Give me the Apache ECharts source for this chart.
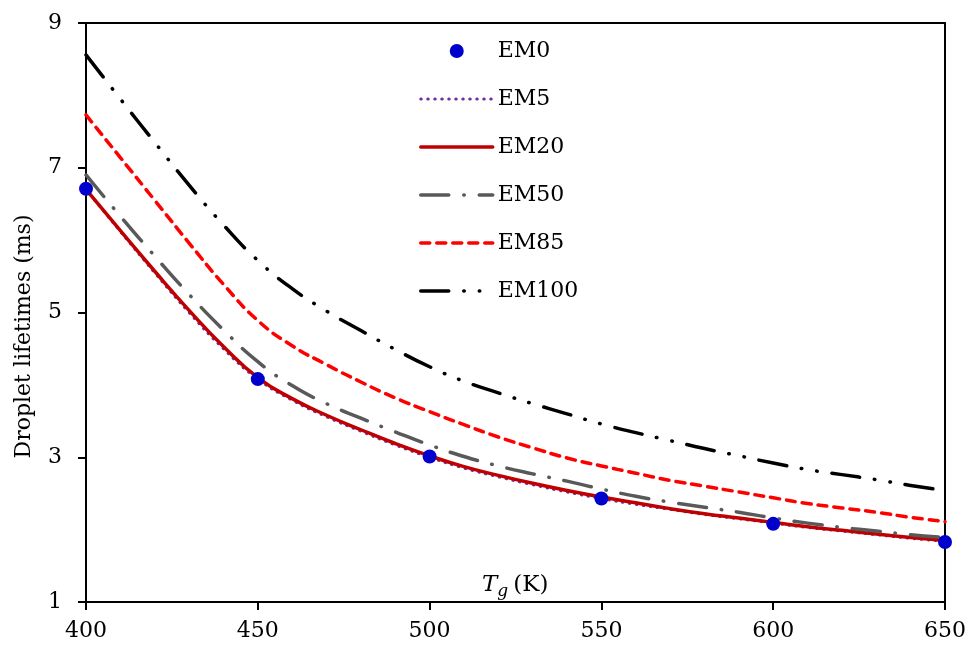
<!DOCTYPE html>
<html>
<head>
<meta charset="utf-8">
<script src="https://cdn.jsdelivr.net/npm/echarts@6/dist/echarts.min.js"></script>
<style>
html,body{margin:0;padding:0;background:#fff;}
#chart{width:969px;height:653px;}
</style>
</head>
<body>
<div id="chart"></div>
<script>
// Gas temperature (K)
var tg = [400,410,420,430,440,450,460,470,480,490,500,510,520,530,540,550,560,570,580,590,600,610,620,630,640,650];
// EM0 measured points
var em0X = [400,450,500,550,600,650];
var em0  = [6.71,4.08,3.01,2.43,2.08,1.83];
// Curves (droplet lifetime, ms)
var em5   = [6.70,6.12,5.55,5.00,4.50,4.08,3.79,3.56,3.36,3.17,3.00,2.85,2.73,2.62,2.52,2.43,2.35,2.28,2.21,2.15,2.09,2.03,1.98,1.93,1.88,1.84];
var em20  = [6.70,6.13,5.57,5.03,4.53,4.10,3.81,3.58,3.38,3.19,3.02,2.87,2.75,2.64,2.54,2.45,2.37,2.29,2.22,2.16,2.10,2.04,1.99,1.94,1.89,1.85];
var em50  = [6.90,6.33,5.78,5.25,4.76,4.32,3.99,3.74,3.54,3.35,3.17,3.01,2.88,2.77,2.67,2.56,2.46,2.38,2.31,2.24,2.16,2.09,2.03,1.98,1.93,1.89];
var em85  = [7.73,7.14,6.55,5.96,5.39,4.89,4.54,4.28,4.04,3.82,3.63,3.45,3.28,3.13,2.99,2.88,2.78,2.68,2.60,2.52,2.44,2.36,2.30,2.24,2.17,2.11];
var em100 = [8.56,7.95,7.35,6.76,6.21,5.72,5.33,5.02,4.75,4.49,4.25,4.05,3.89,3.74,3.60,3.46,3.34,3.23,3.12,3.02,2.92,2.83,2.76,2.69,2.61,2.54];
// Axis ticks
var xTicks = {min:400, max:650, interval:50};
var yTicks = {min:1, max:9, interval:2};
var names = ['EM0','EM5','EM20','EM50','EM85','EM100'];

function pairs(xs, ys){ return xs.map(function(x,i){ return [x, ys[i]]; }); }

var FONT = 'DejaVu Serif';
var chart = echarts.init(document.getElementById('chart'), null, {renderer:'canvas'});
function lineSeries(name, data, color, width, type, z){
  return {
    name: name, type: 'line', data: pairs(tg, data), smooth: 0.5,
    showSymbol: false, symbol: 'none', z: z, animation: false,
    lineStyle: {color: color, width: width, type: type, cap: 'round', join: 'round'},
    itemStyle: {color: color}
  };
}
function legItem(name, w){
  return {name: name, itemStyle: {color: 'transparent', borderColor: 'transparent', borderWidth: 0},
          lineStyle: {width: w}};
}
chart.setOption({
  animation: false,
  backgroundColor: '#fff',
  grid: {left: 86, top: 23, right: 24, bottom: 51, show: true, borderColor: '#000', borderWidth: 2,
         backgroundColor: 'transparent', outerBoundsMode: 'none', containLabel: false},
  title: {
    text: '{i|T}{s|g} {n|(K)}',
    left: 477, top: 566,
    textStyle: {
      fontWeight: 'normal',
      rich: {
        i: {fontFamily: FONT, fontStyle: 'italic', fontWeight: 'normal', fontSize: 23, color: '#000'},
        s: {fontFamily: FONT, fontStyle: 'italic', fontWeight: 'normal', fontSize: 17, color: '#000', verticalAlign: 'bottom', padding: [12,0,0,0]},
        n: {fontFamily: FONT, fontWeight: 'normal', fontSize: 23, color: '#000'}
      }
    }
  },
  legend: {
    orient: 'vertical', left: 414, top: 35, itemWidth: 72, itemHeight: 14, itemGap: 26,
    selectedMode: false,
    textStyle: {fontFamily: FONT, fontSize: 22, color: '#000', lineHeight: 22},
    data: [
      {name: 'EM0'},
      legItem('EM5', 3),
      legItem('EM20', 3.5),
      legItem('EM50', 3.5),
      legItem('EM85', 3.5),
      legItem('EM100', 3.5)
    ]
  },
  xAxis: {
    type: 'value', min: xTicks.min, max: xTicks.max, interval: xTicks.interval,
    axisLine: {show: true, onZero: false, lineStyle: {color: '#000', width: 2}},
    axisTick: {show: true, inside: false, length: 8, lineStyle: {color: '#000', width: 2}},
    axisLabel: {fontFamily: FONT, fontSize: 22, color: '#000', margin: 18},
    splitLine: {show: false}
  },
  yAxis: {
    type: 'value', min: yTicks.min, max: yTicks.max, interval: yTicks.interval,
    name: 'Droplet lifetimes (ms)', nameLocation: 'middle', nameGap: 51,
    nameTextStyle: {fontFamily: FONT, fontSize: 22, color: '#000', padding: [0, 48, 0, 0]},
    axisLine: {show: true, lineStyle: {color: '#000', width: 2}},
    axisTick: {show: true, inside: false, length: 8, lineStyle: {color: '#000', width: 2}},
    axisLabel: {fontFamily: FONT, fontSize: 22, color: '#000', margin: 24},
    splitLine: {show: false}
  },
  series: [
    {name: 'EM0', type: 'scatter', data: pairs(em0X, em0), symbol: 'circle', symbolSize: 14,
     itemStyle: {color: '#0000CC', opacity: 1}, z: 10, clip: false, animation: false},
    lineSeries('EM5', em5, '#7030A0', 3, [0.5, 6.5], 3),
    lineSeries('EM20', em20, '#C00000', 3.5, 'solid', 4),
    lineSeries('EM50', em50, '#595959', 3.5, [28, 15, 0.5, 15], 5),
    lineSeries('EM85', em85, '#FF0000', 3.5, [9, 7], 6),
    lineSeries('EM100', em100, '#000000', 3.5, [28, 15, 0.5, 15, 0.5, 15], 7)
  ]
});
</script>
</body>
</html>
